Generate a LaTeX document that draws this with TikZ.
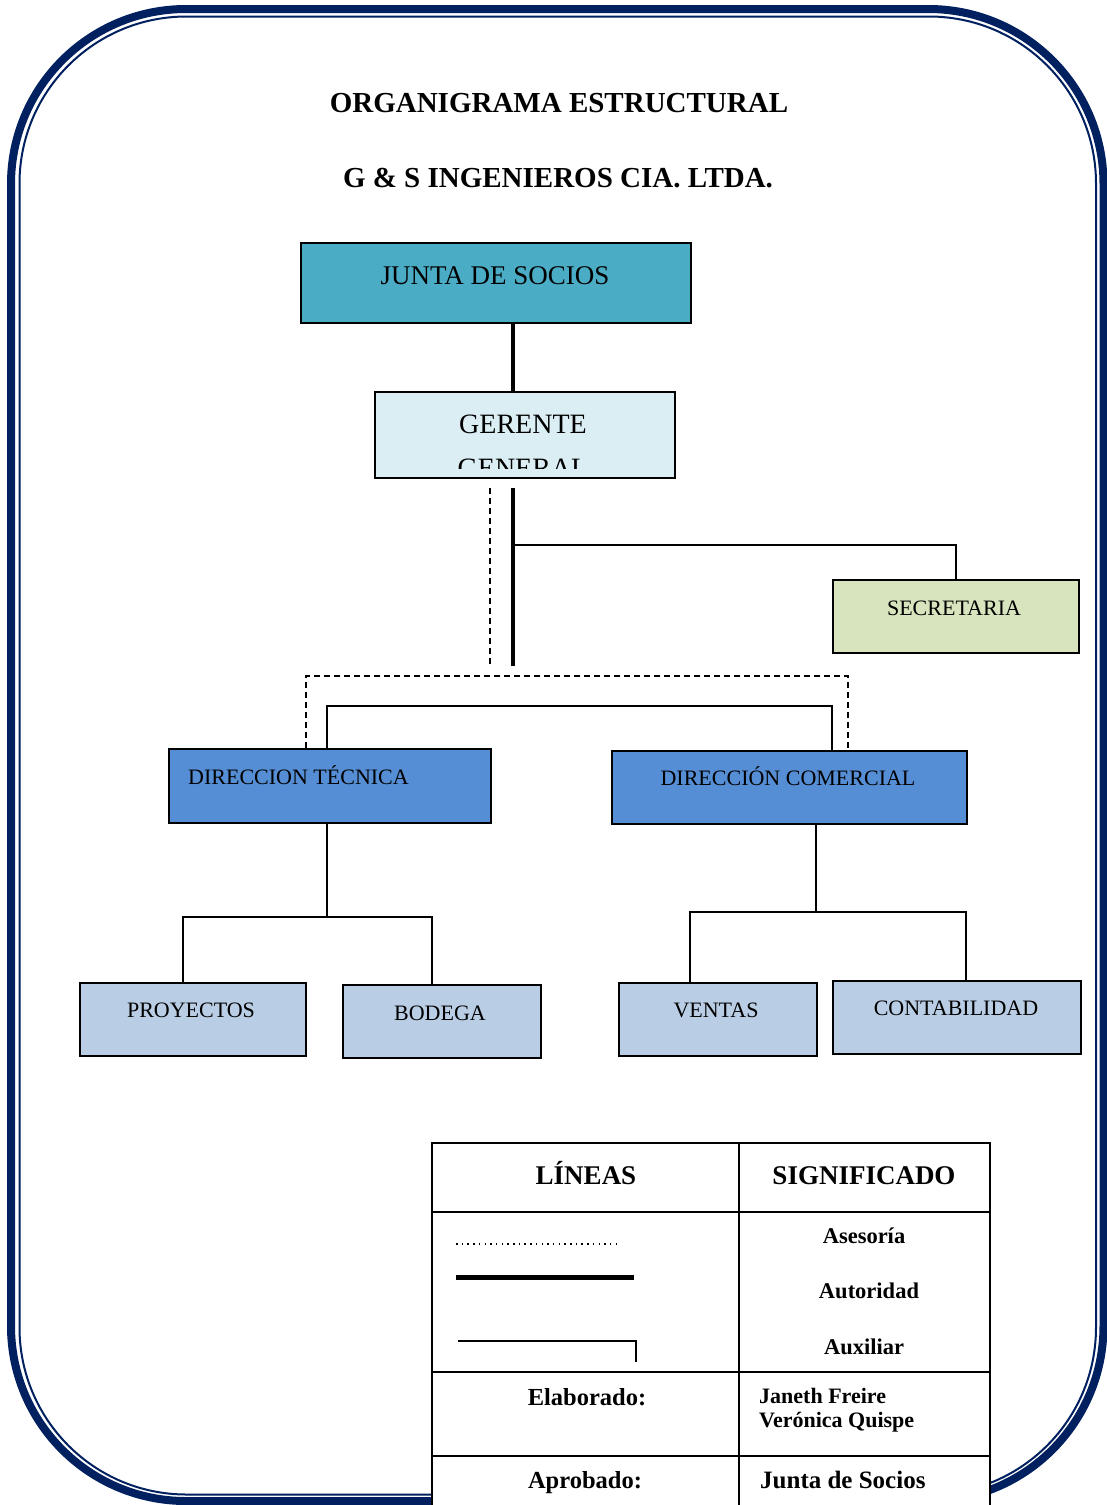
\documentclass[tikz,border=0pt]{standalone}
\usepackage{fontspec}
\setmainfont{Liberation Serif}
\definecolor{navy}{HTML}{002060}
\definecolor{cjunta}{HTML}{4BACC6}
\definecolor{cgerente}{HTML}{DAEEF3}
\definecolor{csecre}{HTML}{D7E4BD}
\definecolor{cdir}{HTML}{558ED5}
\definecolor{clow}{HTML}{B9CDE5}
\begin{document}
\begin{tikzpicture}[x=1pt,y=-1pt,
  box/.style={draw=black, line width=1.8pt, inner sep=0pt, anchor=north west},
  btxt/.style={font=\fontsize{22}{24}\selectfont, inner sep=0pt, anchor=base},
  auth/.style={line width=4.5pt},
  aux/.style={line width=1.6pt},
  adv/.style={line width=1.6pt, dash pattern=on 6pt off 4pt},
  tab/.style={line width=1.8pt},
  ltxt/.style={font=\bfseries\fontsize{22.5}{24}\selectfont, inner sep=0pt, anchor=base},
]
\useasboundingbox (0,0) rectangle (1107,1505);
\fill[white] (0,0) rectangle (1107,1505);
% page border
\draw[navy, line width=8pt, rounded corners=175pt] (11,9) rectangle (1103.5,1501);
\draw[navy, line width=2pt, rounded corners=167pt] (19.5,16.5) rectangle (1096,1494.5);
% titles
\node[font=\bfseries\fontsize{29}{30}\selectfont, inner sep=0pt] (t1) at (559,103) {ORGANIGRAMA ESTRUCTURAL};
\node[font=\bfseries\fontsize{29}{30}\selectfont, inner sep=0pt] (t2) at (558,178) {G \& S INGENIEROS CIA. LTDA.};
% boxes
\node[box, fill=cjunta, minimum width=390pt, minimum height=80pt] (junta) at (300,242) {};
\node[box, fill=cgerente, minimum width=300pt, minimum height=86pt] (gerente) at (374,391) {};
\node[box, fill=csecre, minimum width=246pt, minimum height=73pt] (secre) at (832,579) {};
\node[box, fill=cdir, minimum width=322pt, minimum height=74pt] (dt) at (168,748) {};
\node[box, fill=cdir, minimum width=355pt, minimum height=73pt] (dc) at (611,750) {};
\node[box, fill=clow, minimum width=226pt, minimum height=73pt] (proy) at (79,982) {};
\node[box, fill=clow, minimum width=198pt, minimum height=73pt] (bod) at (342,984) {};
\node[box, fill=clow, minimum width=198pt, minimum height=73pt] (ven) at (618,982) {};
\node[box, fill=clow, minimum width=248pt, minimum height=73pt] (con) at (832,980) {};
% box texts
\node[btxt, font=\fontsize{27}{29}\selectfont] (juntat) at (495,284) {JUNTA DE SOCIOS};
\node[btxt, font=\fontsize{28}{30}\selectfont] (gert) at (523,433) {GERENTE};
\begin{scope}
\clip (375,392) rectangle (673,468);
\node[btxt, font=\fontsize{28}{30}\selectfont] (gent) at (523,477) {GENERAL};
\end{scope}
\node[btxt] (secret) at (954,615) {SECRETARIA};
\node[btxt, anchor=base west] (dtt) at (188,784) {DIRECCION TÉCNICA};
\node[btxt] (dct) at (788,785) {DIRECCIÓN COMERCIAL};
\node[btxt] (proyt) at (191,1017) {PROYECTOS};
\node[btxt] (bodt) at (440,1020) {BODEGA};
\node[btxt] (vent) at (716,1017) {VENTAS};
\node[btxt] (cont) at (956,1015) {CONTABILIDAD};
% connectors
\coordinate (g1) at (513,488);
\coordinate (g2) at (513,666);
\coordinate (d1) at (490,488);
\coordinate (d2) at (490,665);
\coordinate (sj) at (513,545);
\draw[auth] (junta.south -| g1) -- (gerente.north -| g1);
\draw[auth] (g1) -- (g2);
\draw[adv] (d1) -- (d2);
\draw[aux] (sj) -| (secre.north);
\coordinate (ab1) at (306,676);
\coordinate (ab2) at (848,676);
\draw[adv] (dt.north -| ab1) -- (ab1) -- (ab2) -- (dc.north -| ab2);
\coordinate (sb1) at (327,706);
\coordinate (sb2) at (832,706);
\draw[aux] (dt.north -| sb1) -- (sb1) -- (sb2) -- (dc.north -| sb2);
\coordinate (tb) at (327,917);
\coordinate (tb1) at (183,917);
\coordinate (tb2) at (432,917);
\draw[aux] (dt.south -| tb) -- (tb);
\draw[aux] (proy.north -| tb1) -- (tb1) -- (tb2) -- (bod.north -| tb2);
\coordinate (cb) at (816,912);
\coordinate (cb1) at (690,912);
\coordinate (cb2) at (966,912);
\draw[aux] (dc.south -| cb) -- (cb);
\draw[aux] (ven.north -| cb1) -- (cb1) -- (cb2) -- (con.north -| cb2);
% legend table
\fill[white] (432,1143) rectangle (990,1505);
\draw[tab] (432,1505) -- (432,1143) -- (990,1143) -- (990,1505);
\draw[tab] (432,1212) -- (990,1212);
\draw[tab] (432,1372) -- (990,1372);
\draw[tab] (432,1456) -- (990,1456);
\draw[tab] (739,1143) -- (739,1505);
\node[ltxt, font=\bfseries\fontsize{27}{29}\selectfont] (lh1) at (586,1184) {LÍNEAS};
\node[ltxt, font=\bfseries\fontsize{27}{29}\selectfont] (lh2) at (864,1184) {SIGNIFICADO};
\node[ltxt] (m1) at (864,1243) {Asesoría};
\node[ltxt] (m2) at (869,1298) {Autoridad};
\node[ltxt] (m3) at (864,1354) {Auxiliar};
\coordinate (l1a) at (456,1244);
\coordinate (l1b) at (620,1244);
\draw[line width=1.6pt, dash pattern=on 1.5pt off 4.2pt] (l1a) -- (l1b);
\coordinate (l2a) at (456,1277);
\coordinate (l2b) at (634,1277);
\draw[line width=5pt] (l2a) -- (l2b);
\coordinate (l3a) at (458,1341);
\coordinate (l3b) at (636,1341);
\coordinate (l3c) at (636,1362);
\draw[line width=1.4pt] (l3a) -- (l3b) -- (l3c);
\node[ltxt, font=\bfseries\fontsize{24.5}{26}\selectfont] (el) at (587,1405) {Elaborado:};
\node[ltxt, anchor=base west, font=\bfseries\fontsize{22}{24}\selectfont] (n1) at (759,1403) {Janeth Freire};
\node[ltxt, anchor=base west, font=\bfseries\fontsize{22}{24}\selectfont] (n2) at (759,1427) {Verónica Quispe};
\node[ltxt, font=\bfseries\fontsize{24.5}{26}\selectfont] (ap) at (585,1488) {Aprobado:};
\node[ltxt, anchor=base west, font=\bfseries\fontsize{25}{27}\selectfont] (js) at (760,1488) {Junta de Socios};
\end{tikzpicture}
\end{document}
